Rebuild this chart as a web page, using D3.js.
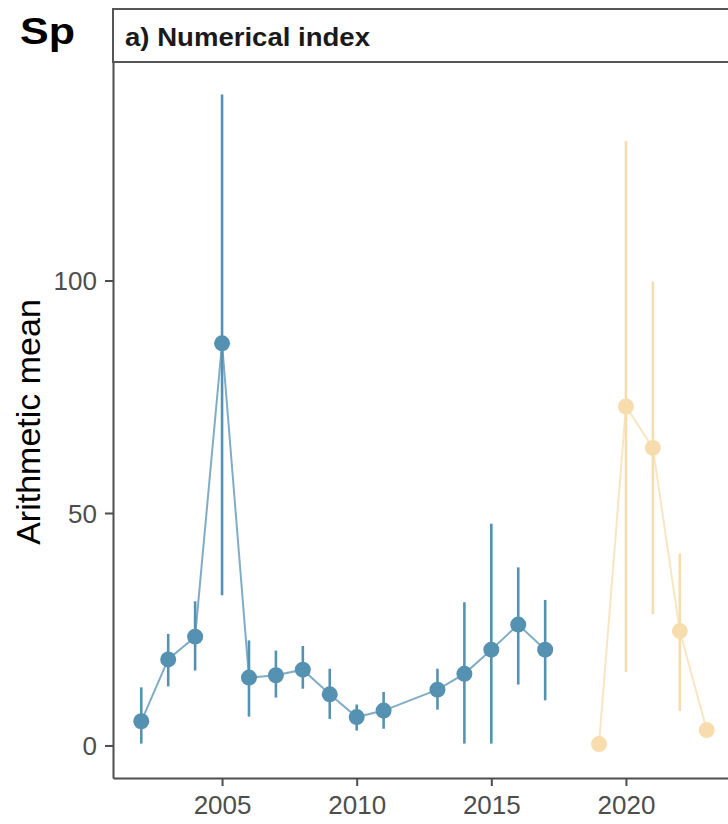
<!DOCTYPE html>
<html>
<head>
<meta charset="utf-8">
<script src="https://cdn.jsdelivr.net/npm/d3@7"></script>
<style>
  body { margin: 0; background: #fff; }
  text { font-family: "Liberation Sans", Arial, sans-serif; }
</style>
</head>
<body>
<div id="chart"></div>
<script>
// series 1 (blue)
var yearsA = [2002, 2003, 2004, 2005, 2006, 2007, 2008, 2009, 2010, 2011, 2013, 2014, 2015, 2016, 2017];
var meanA  = [5.2, 18.5, 23.4, 86.5, 14.6, 15.1, 16.3, 11.0, 6.1, 7.5, 12.0, 15.4, 20.6, 26.0, 20.6];
var lowA   = [0.4, 12.7, 16.1, 32.3, 6.2, 10.3, 12.2, 5.7, 3.2, 3.6, 7.7, 0.4, 0.4, 13.1, 9.7];
var highA  = [12.5, 24.0, 31.0, 140.0, 22.6, 20.4, 21.4, 16.5, 8.8, 11.5, 16.5, 30.8, 47.7, 38.3, 31.3];

// series 2 (wheat)
var yearsB = [2019, 2020, 2021, 2022, 2023];
var meanB  = [0.3, 72.9, 64.0, 24.6, 3.3];
var lowB   = [null, 15.8, 28.3, 7.4, null];
var highB  = [null, 130.0, 99.8, 41.3, null];

var xTicks = [2005, 2010, 2015, 2020];
var yTicks = [0, 50, 100];

var width = 728, height = 824;
var margin = {left: 113, top: 62, right: -7, bottom: 46};

var svg = d3.select("#chart").append("svg")
    .attr("width", width).attr("height", height);

svg.append("rect").attr("width", width).attr("height", height).attr("fill", "#fff");

var x = d3.scaleLinear()
    .domain([2000.95, 2024.05])
    .range([margin.left, width - margin.right]);
var y = d3.scaleLinear()
    .domain([-7, 147])
    .range([height - margin.bottom, margin.top]);

function rows(years, mean, low, high) {
    return years.map(function(yr, i) {
        return {year: yr, mean: mean[i], low: low[i], high: high[i]};
    });
}
var dataA = rows(yearsA, meanA, lowA, highA);
var dataB = rows(yearsB, meanB, lowB, highB);

// title and strip
svg.append("text")
    .attr("x", 20).attr("y", 44)
    .attr("font-size", 37).attr("font-weight", "bold")
    .attr("fill", "#000")
    .attr("textLength", 55).attr("lengthAdjust", "spacingAndGlyphs")
    .text("Sp");

svg.append("rect")
    .attr("x", margin.left).attr("y", 9)
    .attr("width", width).attr("height", margin.top - 9)
    .attr("fill", "#fff").attr("stroke", "#555").attr("stroke-width", 2);

svg.append("text")
    .attr("x", 125).attr("y", 46)
    .attr("font-size", 26).attr("font-weight", "bold")
    .attr("fill", "#1a1a1a")
    .attr("textLength", 245).attr("lengthAdjust", "spacingAndGlyphs")
    .text("a) Numerical index");

// axes
var xAxis = d3.axisBottom(x).tickValues(xTicks).tickFormat(d3.format("d"))
    .tickSize(8).tickSizeOuter(0).tickPadding(10);
var yAxis = d3.axisLeft(y).tickValues(yTicks)
    .tickSize(8).tickSizeOuter(0).tickPadding(8);

var gx = svg.append("g")
    .attr("transform", "translate(0," + (height - margin.bottom) + ")")
    .call(xAxis);
var gy = svg.append("g")
    .attr("transform", "translate(" + margin.left + ",0)")
    .call(yAxis);

[gx, gy].forEach(function(g) {
    g.select(".domain").attr("stroke", "#4d4d4d").attr("stroke-width", 2);
    g.selectAll(".tick line").attr("stroke", "#4d4d4d").attr("stroke-width", 2);
    g.selectAll(".tick text")
        .attr("font-size", 26)
        .attr("fill", "#4d4d4d")
        .style("font-family", '"Liberation Sans", Arial, sans-serif');
});
gy.selectAll(".tick text").attr("dy", "0.36em");

svg.append("text")
    .attr("transform", "translate(40," + 422 + ") rotate(-90)")
    .attr("text-anchor", "middle")
    .attr("font-size", 34)
    .attr("fill", "#000")
    .text("Arithmetic mean");

// series drawing
var line = d3.line()
    .x(function(d) { return x(d.year); })
    .y(function(d) { return y(d.mean); });

function drawSeries(data, color) {
    var g = svg.append("g");
    g.append("path")
        .attr("d", line(data))
        .attr("fill", "none")
        .attr("stroke", color)
        .attr("stroke-opacity", 0.75)
        .attr("stroke-width", 2);
    g.selectAll(".err")
        .data(data.filter(function(d) { return d.low != null; }))
        .enter().append("line")
        .attr("x1", function(d) { return x(d.year); })
        .attr("x2", function(d) { return x(d.year); })
        .attr("y1", function(d) { return y(d.low); })
        .attr("y2", function(d) { return y(d.high); })
        .attr("stroke", color)
        .attr("stroke-width", 2.6);
    g.selectAll(".pt")
        .data(data)
        .enter().append("circle")
        .attr("cx", function(d) { return x(d.year); })
        .attr("cy", function(d) { return y(d.mean); })
        .attr("r", 8)
        .attr("fill", color);
}

drawSeries(dataA, "#5592b2");
drawSeries(dataB, "#f7dcae");
</script>
</body>
</html>
